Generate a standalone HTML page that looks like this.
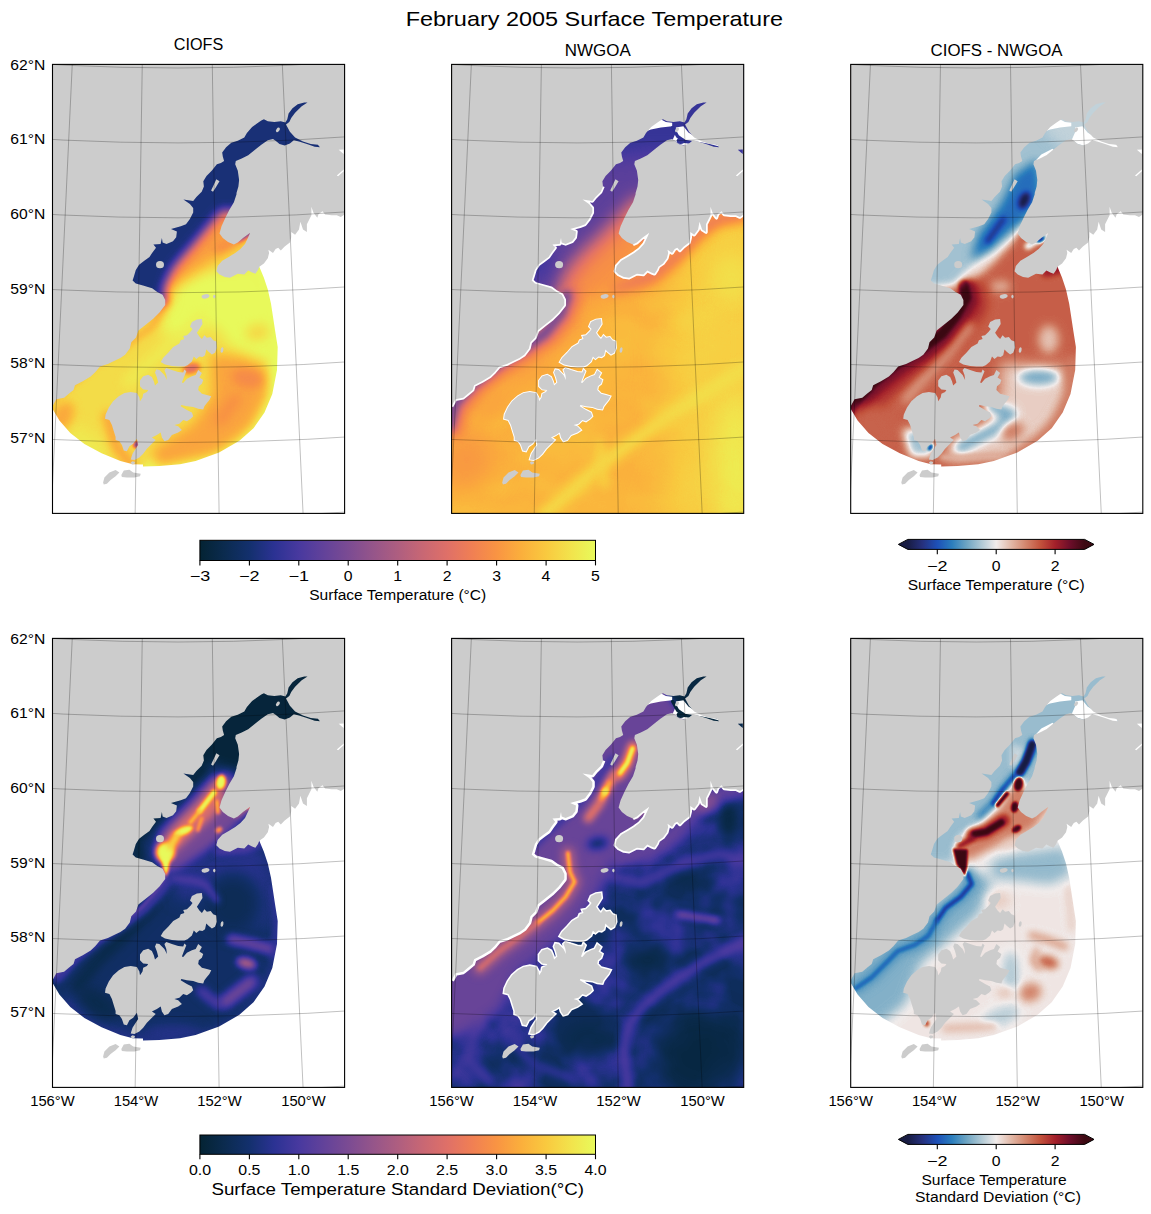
<!DOCTYPE html><html><head><meta charset="utf-8"><title>February 2005 Surface Temperature</title>
<style>html,body{margin:0;padding:0;background:#fff}svg{display:block}text{font-family:"Liberation Sans",sans-serif;fill:#000}</style></head><body>
<svg width="1151" height="1214" viewBox="0 0 1151 1214">
<defs>
<clipPath id="pc"><rect x="0" y="0" width="292.1" height="449.0"/></clipPath>
<g id="land" fill="#cccccc"><path d="M-2 -2 L294.1 -2 L294.1 150.1 L292.0 150.1 L288.3 152.7 L284.3 150.8 L279.1 150.8 L272.6 150.1 L270.0 146.9 L266.1 149.5 L264.8 153.4 L260.9 148.2 L258.9 142.3 L258.9 150.8 L257.0 154.7 L254.4 159.9 L254.4 167.7 L250.5 165.1 L247.9 157.3 L246.5 165.1 L242.6 170.3 L238.7 167.7 L238.7 172.9 L237.4 178.2 L232.2 182.1 L228.3 186.0 L225.7 183.4 L223.1 184.7 L220.5 188.6 L215.9 185.3 L216.6 188.6 L215.3 193.8 L211.4 199.0 L206.8 202.3 L205.5 205.5 L202.9 209.4 L199.6 208.1 L195.7 206.2 L191.8 210.1 L185.3 209.4 L181.4 211.4 L177.5 213.3 L172.3 212.7 L167.0 210.1 L163.8 206.8 L165.1 201.6 L169.7 196.4 L176.2 192.5 L182.7 188.6 L187.9 184.7 L192.5 179.5 L195.7 172.9 L197.7 168.4 L190.5 173.6 L185.3 178.2 L181.4 180.1 L175.5 177.5 L170.3 173.6 L167.0 169.0 L169.0 161.9 L172.9 153.4 L176.8 145.6 L181.4 137.8 L184.0 129.9 L184.0 128.6 L185.9 122.0 L186.6 115.5 L185.3 106.4 L182.7 99.9 L183.3 96.6 L189.2 94.0 L195.7 90.8 L202.2 85.6 L208.8 80.3 L215.3 75.8 L220.5 74.5 L223.1 76.4 L227.0 79.7 L232.2 81.0 L237.4 79.0 L241.3 75.8 L246.5 77.1 L254.4 79.7 L262.2 82.3 L267.4 82.9 L265.4 80.3 L258.3 79.7 L250.5 77.1 L242.6 73.2 L237.4 67.3 L233.5 60.1 L236.8 57.5 L238.7 53.6 L242.6 48.4 L249.2 41.9 L255.0 38.0 L251.8 38.0 L245.2 39.9 L240.0 43.8 L236.1 49.1 L234.8 54.9 L232.9 58.2 L228.3 56.9 L221.8 57.5 L215.3 56.9 L211.4 54.9 L208.8 56.2 L204.8 58.8 L199.6 62.7 L194.4 68.6 L191.8 73.2 L185.3 76.4 L178.8 78.4 L173.6 82.9 L169.7 88.2 L170.3 92.1 L171.6 96.6 L168.4 98.6 L164.4 99.9 L159.2 106.4 L154.0 111.6 L150.8 116.8 L151.4 122.0 L149.2 127.3 L143.9 132.5 L140.7 136.5 L130.9 135.1 L137.4 139.7 L140.7 143.6 L140.7 148.2 L137.4 154.7 L133.5 159.9 L128.3 161.9 L118.5 164.5 L124.4 167.1 L123.7 172.9 L120.5 176.9 L114.0 179.5 L110.1 178.2 L109.4 173.6 L108.1 179.5 L100.9 180.1 L103.5 183.4 L99.6 188.6 L97.0 192.5 L91.8 196.4 L86.6 200.3 L83.3 205.5 L81.4 212.0 L80.1 216.0 L83.3 219.2 L90.5 221.2 L99.6 223.8 L104.8 227.7 L110.1 230.3 L112.7 235.5 L112.7 240.7 L107.0 248.1 L100.7 254.4 L92.9 260.6 L85.9 266.1 L83.5 273.1 L78.8 277.8 L77.3 284.1 L72.6 290.3 L67.9 293.5 L61.6 296.6 L55.4 299.7 L47.5 302.1 L42.9 307.5 L38.2 312.2 L30.3 316.9 L22.5 320.8 L21.0 325.5 L16.3 329.4 L11.6 333.3 L3.8 334.9 L0.0 341.9 L-2 341.9Z"/><path d="M149.4 254.6 L150.0 259.6 L146.9 264.6 L144.4 268.4 L146.9 272.1 L149.4 274.6 L151.9 270.9 L154.4 273.4 L158.2 272.7 L160.7 275.9 L163.8 277.1 L164.4 283.4 L162.5 288.4 L159.4 290.2 L156.3 287.7 L153.8 285.2 L152.5 290.9 L150.0 292.7 L146.9 292.1 L143.8 294.6 L141.3 292.1 L139.4 297.1 L135.0 300.9 L131.9 302.1 L125.7 302.1 L119.4 301.5 L112.5 300.2 L108.2 297.7 L110.7 293.4 L115.7 288.4 L120.7 282.7 L126.9 279.0 L128.2 275.9 L131.9 274.6 L130.7 271.5 L134.4 270.9 L138.2 267.1 L140.0 264.6 L137.5 262.1 L139.4 257.7 L144.4 255.2Z"/><path d="M87.5 316.2 L90.7 311.9 L95.7 310.4 L99.4 312.5 L101.3 316.9 L102.5 321.2 L105.7 318.1 L104.4 313.1 L102.5 308.1 L103.8 305.0 L106.9 305.6 L111.9 310.6 L114.4 315.6 L113.8 310.6 L111.9 305.6 L113.8 303.7 L119.4 305.6 L125.7 307.5 L130.7 308.1 L131.9 305.0 L133.8 306.9 L131.3 313.1 L129.4 318.1 L130.7 318.7 L134.4 314.4 L139.4 311.9 L143.2 310.6 L145.7 305.6 L149.4 308.7 L146.9 313.1 L150.7 315.6 L149.4 319.4 L146.3 321.9 L145.7 325.6 L149.4 329.4 L154.4 330.6 L158.8 331.9 L156.9 335.6 L153.8 339.4 L151.9 341.9 L150.7 345.0 L145.7 344.4 L140.7 342.5 L134.4 341.9 L128.8 340.6 L128.2 341.9 L134.4 345.6 L139.4 348.1 L140.7 351.9 L138.2 354.4 L134.4 356.9 L130.7 355.6 L126.9 359.4 L121.9 360.6 L125.7 361.9 L129.4 365.6 L125.7 368.1 L119.4 370.6 L115.7 375.6 L111.9 376.9 L109.4 373.1 L108.2 368.1 L104.4 370.6 L99.4 373.1 L103.2 375.6 L99.4 379.4 L94.4 384.4 L90.7 389.4 L86.9 393.1 L81.9 395.6 L78.2 395.0 L80.0 389.4 L83.2 384.4 L85.7 380.6 L84.4 374.4 L80.7 379.4 L76.9 381.9 L74.4 386.9 L71.3 386.2 L69.4 380.6 L66.9 376.9 L63.1 375.6 L63.1 372.5 L61.3 366.9 L59.4 360.6 L56.9 355.6 L52.5 354.4 L53.1 350.0 L56.3 343.1 L60.6 336.9 L66.3 331.9 L71.9 328.7 L78.2 327.5 L84.4 328.7 L86.9 333.1 L87.5 336.9 L90.0 333.1 L90.7 329.4 L94.4 327.5 L95.7 325.6 L90.7 325.0 L87.5 321.9Z"/><path d="M163.8 114.9 L167.0 116.8 L163.1 123.3 L160.5 127.3 L158.6 126.0 L161.2 120.7Z"/><path d="M50.6 418.1 L51.9 413.1 L56.9 408.1 L63.1 405.6 L66.9 408.1 L63.1 411.9 L58.1 415.6 L54.4 419.4 L51.3 420.0Z"/><path d="M68.8 410.6 L71.3 406.2 L76.9 405.4 L80.7 408.1 L88.2 409.4 L87.5 411.9 L81.9 413.1 L74.4 413.1 L69.4 412.5Z"/><path d="M78.2 398.1 L80.0 396.9 L82.5 397.5 L81.9 399.6 L79.4 400.0Z"/><ellipse cx="107.5" cy="200.3" rx="4" ry="3.6" transform="rotate(0 107.5 200.3)"/><ellipse cx="225.4" cy="65.4" rx="1.6" ry="2.6" transform="rotate(35 225.4 65.4)"/><ellipse cx="153.0" cy="231.9" rx="4" ry="2.2" transform="rotate(-10 153.0 231.9)"/><ellipse cx="161.8" cy="232.2" rx="1.2" ry="1.8" transform="rotate(0 161.8 232.2)"/><ellipse cx="169.5" cy="285.6" rx="1.4" ry="2.8" transform="rotate(10 169.5 285.6)"/></g>
<linearGradient id="thermal" x1="0" x2="1" y1="0" y2="0"><stop offset="0" stop-color="#042333"/><stop offset="0.0625" stop-color="#0b2b4f"/><stop offset="0.125" stop-color="#13306d"/><stop offset="0.1875" stop-color="#2b3293"/><stop offset="0.25" stop-color="#48399f"/><stop offset="0.3125" stop-color="#62429a"/><stop offset="0.375" stop-color="#7b4b93"/><stop offset="0.4375" stop-color="#95558a"/><stop offset="0.5" stop-color="#ae5e80"/><stop offset="0.5625" stop-color="#c86774"/><stop offset="0.625" stop-color="#df7068"/><stop offset="0.6875" stop-color="#f07f54"/><stop offset="0.75" stop-color="#f99443"/><stop offset="0.8125" stop-color="#fbaf3c"/><stop offset="0.875" stop-color="#f9c93f"/><stop offset="0.9375" stop-color="#f2e34c"/><stop offset="1" stop-color="#e8fa5b"/></linearGradient>
<linearGradient id="balance" x1="0" x2="1" y1="0" y2="0"><stop offset="0" stop-color="#181c43"/><stop offset="0.0833" stop-color="#26317e"/><stop offset="0.1667" stop-color="#1d50b8"/><stop offset="0.25" stop-color="#2b7ebd"/><stop offset="0.3333" stop-color="#6ea5c3"/><stop offset="0.4167" stop-color="#b0c9d5"/><stop offset="0.5" stop-color="#f1eceb"/><stop offset="0.5833" stop-color="#e2b9a8"/><stop offset="0.6667" stop-color="#d3866d"/><stop offset="0.75" stop-color="#c2523c"/><stop offset="0.8333" stop-color="#a4202a"/><stop offset="0.9167" stop-color="#6d0e2a"/><stop offset="1" stop-color="#3c0912"/></linearGradient>
<filter id="cmT" filterUnits="userSpaceOnUse" x="-5" y="-5" width="302.1" height="459.0" color-interpolation-filters="sRGB"><feComponentTransfer><feFuncR type="table" tableValues="0.016 0.029 0.043 0.059 0.075 0.122 0.169 0.225 0.282 0.333 0.384 0.433 0.482 0.533 0.584 0.633 0.682 0.733 0.784 0.829 0.875 0.908 0.941 0.959 0.976 0.98 0.984 0.98 0.976 0.963 0.949 0.929 0.91"/><feFuncG type="table" tableValues="0.137 0.153 0.169 0.178 0.188 0.192 0.196 0.21 0.224 0.241 0.259 0.276 0.294 0.314 0.333 0.351 0.369 0.386 0.404 0.422 0.439 0.469 0.498 0.539 0.58 0.633 0.686 0.737 0.788 0.839 0.89 0.935 0.98"/><feFuncB type="table" tableValues="0.2 0.255 0.31 0.369 0.427 0.502 0.576 0.6 0.624 0.614 0.604 0.59 0.576 0.559 0.541 0.522 0.502 0.478 0.455 0.431 0.408 0.369 0.329 0.296 0.263 0.249 0.235 0.241 0.247 0.273 0.298 0.327 0.357"/></feComponentTransfer></filter><filter id="cmB" filterUnits="userSpaceOnUse" x="-5" y="-5" width="302.1" height="459.0" color-interpolation-filters="sRGB"><feComponentTransfer><feFuncR type="table" tableValues="0.094 0.115 0.135 0.145 0.131 0.118 0.127 0.148 0.169 0.267 0.366 0.464 0.561 0.658 0.754 0.849 0.945 0.923 0.901 0.879 0.857 0.835 0.811 0.786 0.761 0.717 0.673 0.616 0.535 0.454 0.379 0.307 0.235"/><feFuncG type="table" tableValues="0.11 0.141 0.172 0.207 0.253 0.298 0.359 0.426 0.494 0.551 0.609 0.665 0.718 0.771 0.823 0.874 0.925 0.85 0.775 0.7 0.625 0.551 0.475 0.398 0.322 0.248 0.174 0.117 0.09 0.064 0.05 0.043 0.035"/><feFuncB type="table" tableValues="0.263 0.35 0.436 0.523 0.608 0.693 0.726 0.734 0.741 0.75 0.759 0.774 0.8 0.826 0.857 0.889 0.922 0.823 0.724 0.63 0.543 0.456 0.379 0.307 0.235 0.209 0.182 0.165 0.165 0.165 0.141 0.106 0.071"/></feComponentTransfer></filter><filter id="b1" filterUnits="userSpaceOnUse" x="-60" y="-60" width="412.1" height="569.0" color-interpolation-filters="sRGB"><feGaussianBlur stdDeviation="1"/></filter><filter id="b1_2" filterUnits="userSpaceOnUse" x="-60" y="-60" width="412.1" height="569.0" color-interpolation-filters="sRGB"><feGaussianBlur stdDeviation="1.2"/></filter><filter id="b1_5" filterUnits="userSpaceOnUse" x="-60" y="-60" width="412.1" height="569.0" color-interpolation-filters="sRGB"><feGaussianBlur stdDeviation="1.5"/></filter><filter id="b1_8" filterUnits="userSpaceOnUse" x="-60" y="-60" width="412.1" height="569.0" color-interpolation-filters="sRGB"><feGaussianBlur stdDeviation="1.8"/></filter><filter id="b2" filterUnits="userSpaceOnUse" x="-60" y="-60" width="412.1" height="569.0" color-interpolation-filters="sRGB"><feGaussianBlur stdDeviation="2"/></filter><filter id="b2_5" filterUnits="userSpaceOnUse" x="-60" y="-60" width="412.1" height="569.0" color-interpolation-filters="sRGB"><feGaussianBlur stdDeviation="2.5"/></filter><filter id="b3" filterUnits="userSpaceOnUse" x="-60" y="-60" width="412.1" height="569.0" color-interpolation-filters="sRGB"><feGaussianBlur stdDeviation="3"/></filter><filter id="b3_5" filterUnits="userSpaceOnUse" x="-60" y="-60" width="412.1" height="569.0" color-interpolation-filters="sRGB"><feGaussianBlur stdDeviation="3.5"/></filter><filter id="b4" filterUnits="userSpaceOnUse" x="-60" y="-60" width="412.1" height="569.0" color-interpolation-filters="sRGB"><feGaussianBlur stdDeviation="4"/></filter><filter id="b4_5" filterUnits="userSpaceOnUse" x="-60" y="-60" width="412.1" height="569.0" color-interpolation-filters="sRGB"><feGaussianBlur stdDeviation="4.5"/></filter><filter id="b5" filterUnits="userSpaceOnUse" x="-60" y="-60" width="412.1" height="569.0" color-interpolation-filters="sRGB"><feGaussianBlur stdDeviation="5"/></filter><filter id="b6" filterUnits="userSpaceOnUse" x="-60" y="-60" width="412.1" height="569.0" color-interpolation-filters="sRGB"><feGaussianBlur stdDeviation="6"/></filter><filter id="b7" filterUnits="userSpaceOnUse" x="-60" y="-60" width="412.1" height="569.0" color-interpolation-filters="sRGB"><feGaussianBlur stdDeviation="7"/></filter><filter id="b8" filterUnits="userSpaceOnUse" x="-60" y="-60" width="412.1" height="569.0" color-interpolation-filters="sRGB"><feGaussianBlur stdDeviation="8"/></filter><filter id="b9" filterUnits="userSpaceOnUse" x="-60" y="-60" width="412.1" height="569.0" color-interpolation-filters="sRGB"><feGaussianBlur stdDeviation="9"/></filter><filter id="b10" filterUnits="userSpaceOnUse" x="-60" y="-60" width="412.1" height="569.0" color-interpolation-filters="sRGB"><feGaussianBlur stdDeviation="10"/></filter><filter id="b12" filterUnits="userSpaceOnUse" x="-60" y="-60" width="412.1" height="569.0" color-interpolation-filters="sRGB"><feGaussianBlur stdDeviation="12"/></filter><filter id="b18" filterUnits="userSpaceOnUse" x="-60" y="-60" width="412.1" height="569.0" color-interpolation-filters="sRGB"><feGaussianBlur stdDeviation="18"/></filter><clipPath id="dom"><path d="M206.8 202.3 L211.4 213.3 L215.3 225.1 L218.5 239.4 L220.5 252.4 L222.5 265.6 L225.2 282.6 L224.5 305.6 L219.8 329.6 L212.0 348.2 L201.0 363.8 L186.9 376.4 L166.6 388.1 L143.1 396.6 L127.5 399.8 L107.0 401.7 L90.5 402.1 L90.5 400.1 L80.4 399.8 L67.9 396.7 L49.1 388.9 L31.9 379.5 L17.8 368.5 L6.9 356.0 L-0.5 343.6 L-6 343.6 L-6 -6 L298.1 -6 L298.1 90 L270 100 L200 160Z"/></clipPath><filter id="turb" filterUnits="userSpaceOnUse" x="-10" y="-10" width="320" height="480" color-interpolation-filters="sRGB"><feTurbulence type="fractalNoise" baseFrequency="0.022" numOctaves="3" seed="11"/><feColorMatrix type="matrix" values="0 0 0 0 0  0 0 0 0 0  0 0 0 0 0  1.6 0 0 0 -0.55" result="a"/><feFlood flood-color="rgb(70,70,70)"/><feComposite in2="a" operator="in"/></filter><filter id="turb2" filterUnits="userSpaceOnUse" x="-10" y="-10" width="320" height="480" color-interpolation-filters="sRGB"><feTurbulence type="fractalNoise" baseFrequency="0.02 0.03" numOctaves="2" seed="5"/><feColorMatrix type="matrix" values="0 0 0 0 0  0 0 0 0 0  0 0 0 0 0  1.4 0 0 0 -0.5" result="a"/><feFlood flood-color="rgb(232,232,232)"/><feComposite in2="a" operator="in"/></filter>
</defs>
<rect width="1151" height="1214" fill="#fff"/>
<g transform="translate(52.5 64.4)"><g clip-path="url(#pc)">
<rect width="292.1" height="449.0" fill="#fff"/>
<g clip-path="url(#dom)"><g filter="url(#cmT)"><rect x="-60" y="-60" width="412.1" height="569.0" fill="rgb(235,235,235)"/><path d="M207 200 L215 235 L225 283 L224 325 L208 360 L189 383 L150 401 L100 405" fill="none" stroke="rgb(255,255,255)" stroke-width="18" stroke-linecap="round" stroke-linejoin="round" filter="url(#b4)"/><path d="M112 240 L125 222 L150 208 L206 203 L225 260 L222 300 L178 282 L165 262 L148 262 L128 275 L110 270Z" fill="rgb(255,255,255)" filter="url(#b7)"/><path d="M150 252 L120 278 L95 300 L75 318" fill="none" stroke="rgb(247,247,247)" stroke-width="10" stroke-linecap="round" stroke-linejoin="round" filter="url(#b6)"/><ellipse cx="35" cy="382" rx="26" ry="12" fill="rgb(245,245,245)" filter="url(#b8)" transform="rotate(40 35 382)"/><ellipse cx="205" cy="268" rx="12" ry="8" fill="rgb(230,230,230)" filter="url(#b6)" transform="rotate(-10 205 268)"/><path d="M165 138 L192 142 L195 172 L170 190 L145 205 L122 218 L108 222 L112 205 L130 178Z" fill="rgb(199,199,199)" filter="url(#b7)"/><path d="M195 163 L183 177 L165 185" fill="none" stroke="rgb(178,178,178)" stroke-width="6" stroke-linecap="round" stroke-linejoin="round" filter="url(#b4)"/><path d="M114 236 L100 262 L70 283 L40 300 L0 335" fill="none" stroke="rgb(204,204,204)" stroke-width="6" stroke-linecap="round" stroke-linejoin="round" filter="url(#b3_5)"/><ellipse cx="10" cy="352" rx="10" ry="16" fill="rgb(204,204,204)" filter="url(#b5)" transform="rotate(30 10 352)"/><path d="M55 352 L64 382 L80 402" fill="none" stroke="rgb(199,199,199)" stroke-width="10" stroke-linecap="round" stroke-linejoin="round" filter="url(#b4)"/><path d="M158 290 L185 292 L212 302 L214 332 L198 362 L165 388 L105 402 L100 385 L140 360 L160 330Z" fill="rgb(201,201,201)" filter="url(#b6)"/><ellipse cx="195" cy="314" rx="16" ry="9" fill="rgb(184,184,184)" filter="url(#b5)" transform="rotate(10 195 314)"/><path d="M183 335 L168 355" fill="none" stroke="rgb(189,189,189)" stroke-width="12" stroke-linecap="round" stroke-linejoin="round" filter="url(#b5)"/><ellipse cx="139" cy="304" rx="9" ry="5" fill="rgb(158,158,158)" filter="url(#b2_5)" transform="rotate(-15 139 304)"/><path d="M180 147 L170 144.5 L163 152 L151.5 165.5 L139 180.5 L128 193 L120 203 L114 214.5 L110 225.5 L113 236 L90 245 L40 220 L40 100 L150 -20 L320 -20 L320 100 L230 130Z" fill="rgb(128,128,128)" filter="url(#b9)"/><path d="M180 147 L170 144.5 L163 152 L151.5 165.5 L139 180.5 L128 193 L120 203 L114 214.5 L110 225.5 L113 236 L90 245 L40 220 L40 100 L150 -20 L320 -20 L320 100 L230 130Z" fill="rgb(36,36,36)" filter="url(#b5)"/><path d="M186 174 L198 168" fill="none" stroke="rgb(76,76,76)" stroke-width="5" stroke-linecap="round" stroke-linejoin="round" filter="url(#b2)"/><ellipse cx="84" cy="380" rx="2.5" ry="3.5" fill="rgb(89,89,89)" filter="url(#b1_5)" transform="rotate(30 84 380)"/></g></g>
<use href="#land"/>
<path d="M286.2 85.3 L291.2 85.1 L291.2 89.6 L289.1 87.8Z" fill="#fff"/><path d="M284.3 111.2 L291.2 105.0 L291.2 106.8 L285.6 111.8Z" fill="#fff"/>
<g fill="none" stroke="#000" stroke-opacity="0.42" stroke-width="0.6"><circle cx="125.5" cy="-2258.4" r="2711.4"/><circle cx="125.5" cy="-2258.4" r="2636.5"/><circle cx="125.5" cy="-2258.4" r="2561.6"/><circle cx="125.5" cy="-2258.4" r="2486.7"/><circle cx="125.5" cy="-2258.4" r="2411.8"/><circle cx="125.5" cy="-2258.4" r="2336.9"/><circle cx="125.5" cy="-2258.4" r="2262.0"/><line x1="-45.5" y1="-65.1" x2="-92.1" y2="533.1"/><line x1="22.6" y1="-60.8" x2="-5.5" y2="538.5"/><line x1="90.7" y1="-58.7" x2="81.2" y2="541.3"/><line x1="158.9" y1="-58.7" x2="168.0" y2="541.3"/><line x1="227.0" y1="-60.7" x2="254.7" y2="538.6"/><line x1="295.1" y1="-64.9" x2="341.3" y2="533.3"/></g>
</g>
<rect x="0" y="0" width="292.1" height="449.0" fill="none" stroke="#000" stroke-width="1.1"/>
</g>
<g transform="translate(451.6 64.4)"><g clip-path="url(#pc)">
<rect width="292.1" height="449.0" fill="#fff"/>
<g filter="url(#cmT)"><rect x="-60" y="-60" width="412.1" height="569.0" fill="rgb(209,209,209)"/><path d="M235 130 L320 120 L320 470 L200 470 L225 380 L215 300Z" fill="rgb(227,227,227)" filter="url(#b18)"/><ellipse cx="285" cy="400" rx="22" ry="70" fill="rgb(245,245,245)" filter="url(#b12)"/><ellipse cx="280" cy="215" rx="20" ry="25" fill="rgb(237,237,237)" filter="url(#b10)"/><path d="M300 300 L219 350 L190 371 L152 398 L114 432 L90 452" fill="none" stroke="rgb(240,240,240)" stroke-width="11" stroke-linecap="round" stroke-linejoin="round" filter="url(#b6)"/><path d="M148 378 L153 420" fill="none" stroke="rgb(230,230,230)" stroke-width="8" stroke-linecap="round" stroke-linejoin="round" filter="url(#b5)"/><ellipse cx="245" cy="255" rx="25" ry="10" fill="rgb(230,230,230)" filter="url(#b8)" transform="rotate(-15 245 255)"/><rect x="-10" y="-10" width="312.1" height="469.0" filter="url(#turb2)" opacity="0.55"/><ellipse cx="15" cy="395" rx="30" ry="30" fill="rgb(194,194,194)" filter="url(#b12)"/><path d="M130 255 L100 290 L60 320 L30 350" fill="none" stroke="rgb(199,199,199)" stroke-width="20" stroke-linecap="round" stroke-linejoin="round" filter="url(#b10)"/><path d="M165 222 L200 212 L225 192 L245 170 L265 155 L292 150" fill="none" stroke="rgb(168,168,168)" stroke-width="14" stroke-linecap="round" stroke-linejoin="round" filter="url(#b6)"/><path d="M150 95 L200 100 L205 160 L175 215 L140 240 L105 240 L95 200 L120 150Z" fill="rgb(189,189,189)" filter="url(#b10)"/><path d="M200 136 L186 136 L176 148 L164 161 L150 175 L136 188 L125 200 L116 212 L111 225 L111 238 L90 250 L40 230 L40 100 L150 -20 L320 -20 L320 100 L230 125Z" fill="rgb(133,133,133)" filter="url(#b12)"/><path d="M194 131 L180 131 L170 143 L158 156 L144 170 L130 183 L119 195 L110 207 L105 220 L105 233 L84 245 L34 225 L34 95 L144 -25 L314 -25 L314 95 L224 120Z" fill="rgb(76,76,76)" filter="url(#b8)"/><path d="M150 95 L150 -20 L320 -20 L320 90 L200 88Z" fill="rgb(54,54,54)" filter="url(#b10)"/><ellipse cx="80" cy="200" rx="22" ry="16" fill="rgb(59,59,59)" filter="url(#b8)" transform="rotate(-30 80 200)"/><path d="M118 233 L112 251 L96 271 L74 286 L49 301 L24 321 L6 341 L0 363" fill="none" stroke="rgb(158,158,158)" stroke-width="20" stroke-linecap="round" stroke-linejoin="round" filter="url(#b6)" opacity="0.85"/><path d="M115 231 L109 249 L93 269 L71 284 L46 299 L21 319 L3 339 L-3 361" fill="none" stroke="rgb(97,97,97)" stroke-width="11" stroke-linecap="round" stroke-linejoin="round" filter="url(#b3)"/><path d="M184 175 L198 168" fill="none" stroke="rgb(115,115,115)" stroke-width="5" stroke-linecap="round" stroke-linejoin="round" filter="url(#b2)"/></g><path d="M151.4 122.0 L149.2 127.3 L143.9 132.5 L140.7 136.5 L130.9 135.1 L137.4 139.7 L140.7 143.6 L140.7 148.2 L137.4 154.7 L133.5 159.9 L128.3 161.9 L118.5 164.5 L124.4 167.1 L123.7 172.9 L120.5 176.9 L114.0 179.5 L110.1 178.2 L109.4 173.6 L108.1 179.5 L100.9 180.1 L103.5 183.4 L99.6 188.6 L97.0 192.5 L91.8 196.4 L86.6 200.3 L83.3 205.5 L81.4 212.0 L80.1 216.0 L83.3 219.2 L90.5 221.2 L99.6 223.8 L104.8 227.7 L110.1 230.3 L112.7 235.5 L112.7 240.7 L107.0 248.1 L100.7 254.4 L92.9 260.6 L85.9 266.1 L83.5 273.1 L78.8 277.8 L77.3 284.1 L72.6 290.3 L67.9 293.5 L61.6 296.6 L55.4 299.7 L47.5 302.1 L42.9 307.5 L38.2 312.2 L30.3 316.9 L22.5 320.8 L21.0 325.5 L16.3 329.4 L11.6 333.3 L3.8 334.9 L0.0 341.9" fill="none" stroke="#fff" stroke-width="3.5" stroke-linejoin="round"/><path d="M181.4 180.1 L185.3 178.2 L190.5 173.6 L197.7 168.4 L195.7 172.9 L192.5 179.5 L187.9 184.7 L182.7 188.6 L176.2 192.5 L169.7 196.4 L165.1 201.6 L163.8 206.8 L167.0 210.1 L172.3 212.7 L177.5 213.3 L181.4 211.4 L185.3 209.4 L191.8 210.1 L195.7 206.2 L199.6 208.1 L202.9 209.4 L205.5 205.5 L206.8 202.3 L211.4 199.0 L215.3 193.8 L216.6 188.6 L215.9 185.3 L220.5 188.6 L223.1 184.7 L225.7 183.4 L228.3 186.0 L232.2 182.1 L237.4 178.2 L238.7 172.9 L238.7 167.7 L242.6 170.3 L246.5 165.1 L247.9 157.3 L250.5 165.1 L254.4 167.7 L254.4 159.9 L257.0 154.7 L258.9 150.8 L258.9 142.3 L260.9 148.2 L264.8 153.4 L266.1 149.5 L270.0 146.9 L272.6 150.1 L279.1 150.8 L284.3 150.8 L288.3 152.7 L292.0 150.1" fill="none" stroke="#fff" stroke-width="3.5" stroke-linejoin="round"/><path d="M87.5 316.2 L90.7 311.9 L95.7 310.4 L99.4 312.5 L101.3 316.9 L102.5 321.2 L105.7 318.1 L104.4 313.1 L102.5 308.1 L103.8 305.0 L106.9 305.6 L111.9 310.6 L114.4 315.6 L113.8 310.6 L111.9 305.6 L113.8 303.7 L119.4 305.6 L125.7 307.5 L130.7 308.1 L131.9 305.0 L133.8 306.9 L131.3 313.1 L129.4 318.1 L130.7 318.7 L134.4 314.4 L139.4 311.9 L143.2 310.6 L145.7 305.6 L149.4 308.7 L146.9 313.1 L150.7 315.6 L149.4 319.4 L146.3 321.9 L145.7 325.6 L149.4 329.4 L154.4 330.6 L158.8 331.9 L156.9 335.6 L153.8 339.4 L151.9 341.9 L150.7 345.0 L145.7 344.4 L140.7 342.5 L134.4 341.9 L128.8 340.6 L128.2 341.9 L134.4 345.6 L139.4 348.1 L140.7 351.9 L138.2 354.4 L134.4 356.9 L130.7 355.6 L126.9 359.4 L121.9 360.6 L125.7 361.9 L129.4 365.6 L125.7 368.1 L119.4 370.6 L115.7 375.6 L111.9 376.9 L109.4 373.1 L108.2 368.1 L104.4 370.6 L99.4 373.1 L103.2 375.6 L99.4 379.4 L94.4 384.4 L90.7 389.4 L86.9 393.1 L81.9 395.6 L78.2 395.0 L80.0 389.4 L83.2 384.4 L85.7 380.6 L84.4 374.4 L80.7 379.4 L76.9 381.9 L74.4 386.9 L71.3 386.2 L69.4 380.6 L66.9 376.9 L63.1 375.6 L63.1 372.5 L61.3 366.9 L59.4 360.6 L56.9 355.6 L52.5 354.4 L53.1 350.0 L56.3 343.1 L60.6 336.9 L66.3 331.9 L71.9 328.7 L78.2 327.5 L84.4 328.7 L86.9 333.1 L87.5 336.9 L90.0 333.1 L90.7 329.4 L94.4 327.5 L95.7 325.6 L90.7 325.0 L87.5 321.9Z" fill="none" stroke="#fff" stroke-width="2"/><path d="M149.4 254.6 L150.0 259.6 L146.9 264.6 L144.4 268.4 L146.9 272.1 L149.4 274.6 L151.9 270.9 L154.4 273.4 L158.2 272.7 L160.7 275.9 L163.8 277.1 L164.4 283.4 L162.5 288.4 L159.4 290.2 L156.3 287.7 L153.8 285.2 L152.5 290.9 L150.0 292.7 L146.9 292.1 L143.8 294.6 L141.3 292.1 L139.4 297.1 L135.0 300.9 L131.9 302.1 L125.7 302.1 L119.4 301.5 L112.5 300.2 L108.2 297.7 L110.7 293.4 L115.7 288.4 L120.7 282.7 L126.9 279.0 L128.2 275.9 L131.9 274.6 L130.7 271.5 L134.4 270.9 L138.2 267.1 L140.0 264.6 L137.5 262.1 L139.4 257.7 L144.4 255.2Z" fill="none" stroke="#fff" stroke-width="2"/><path d="M224.3 63.1 L231.8 61.9 L236.8 68.1 L246.8 74.3 L266.8 80.6 L266.8 85.0 L249.3 80.6 L235.6 81.8 L226.8 79.3 L221.2 75.0 L224.3 68.1Z" fill="#fff"/><path d="M196.8 61.9 L208.1 54.4 L214.3 57.5 L220.6 58.4 L220.6 61.9 L209.3 63.1 L199.3 65.0 L191.8 68.1Z" fill="#fff"/><path d="M221 63 L226 72 L233 77 L243 78.5 L257 81 L268 84" fill="none" stroke="#2f3295" stroke-width="3.2" stroke-linecap="round" stroke-linejoin="round"/><ellipse cx="229" cy="76.5" rx="4" ry="3" fill="#2f3295"/>
<use href="#land"/>
<path d="M286.2 85.3 L291.2 85.1 L291.2 89.6 L289.1 87.8Z" fill="#3a349c"/><path d="M284.3 111.2 L291.2 105.0 L291.2 106.8 L285.6 111.8Z" fill="#fff"/>
<g fill="none" stroke="#000" stroke-opacity="0.42" stroke-width="0.6"><circle cx="125.5" cy="-2258.4" r="2711.4"/><circle cx="125.5" cy="-2258.4" r="2636.5"/><circle cx="125.5" cy="-2258.4" r="2561.6"/><circle cx="125.5" cy="-2258.4" r="2486.7"/><circle cx="125.5" cy="-2258.4" r="2411.8"/><circle cx="125.5" cy="-2258.4" r="2336.9"/><circle cx="125.5" cy="-2258.4" r="2262.0"/><line x1="-45.5" y1="-65.1" x2="-92.1" y2="533.1"/><line x1="22.6" y1="-60.8" x2="-5.5" y2="538.5"/><line x1="90.7" y1="-58.7" x2="81.2" y2="541.3"/><line x1="158.9" y1="-58.7" x2="168.0" y2="541.3"/><line x1="227.0" y1="-60.7" x2="254.7" y2="538.6"/><line x1="295.1" y1="-64.9" x2="341.3" y2="533.3"/></g>
</g>
<rect x="0" y="0" width="292.1" height="449.0" fill="none" stroke="#000" stroke-width="1.1"/>
</g>
<g transform="translate(850.7 64.4)"><g clip-path="url(#pc)">
<rect width="292.1" height="449.0" fill="#fff"/>
<g clip-path="url(#dom)"><g filter="url(#cmB)"><rect x="-60" y="-60" width="412.1" height="569.0" fill="rgb(186,186,186)"/><ellipse cx="198" cy="275" rx="10" ry="14" fill="rgb(145,145,145)" filter="url(#b5)"/><ellipse cx="150" cy="222" rx="10" ry="6" fill="rgb(153,153,153)" filter="url(#b4)"/><path d="M164 160 L158 175 L140 195 L118 214" fill="none" stroke="rgb(128,128,128)" stroke-width="8" stroke-linecap="round" stroke-linejoin="round" filter="url(#b4)"/><path d="M121 227 L124 240 L114 258 L100 276 L80 291 L55 306 L30 326 L12 346 L6 358" fill="none" stroke="rgb(209,209,209)" stroke-width="24" stroke-linecap="round" stroke-linejoin="round" filter="url(#b6)"/><path d="M116 223 L119 236 L109 254 L95 272 L75 287 L50 302 L25 322 L7 342 L1 354" fill="none" stroke="rgb(230,230,230)" stroke-width="15" stroke-linecap="round" stroke-linejoin="round" filter="url(#b3)"/><path d="M112.5 220 L115.5 233 L105.5 251 L91.5 269 L71.5 284 L46.5 299 L21.5 319 L3.5 339 L-2.5 351" fill="none" stroke="rgb(255,255,255)" stroke-width="10" stroke-linecap="round" stroke-linejoin="round" filter="url(#b1_8)"/><path d="M120 262 L100 288 L70 318 L55 335" fill="none" stroke="rgb(158,158,158)" stroke-width="8" stroke-linecap="round" stroke-linejoin="round" filter="url(#b4)"/><path d="M0 345 L30 340 L50 370 L30 390 L0 370Z" fill="rgb(184,184,184)" filter="url(#b6)"/><path d="M195 208 L215 203" fill="none" stroke="rgb(224,224,224)" stroke-width="8" stroke-linecap="round" stroke-linejoin="round" filter="url(#b3)"/><path d="M150 298 L175 300 L215 302 L218 330 L200 365 L160 392 L95 398 L100 375 L135 360 L150 330Z" fill="rgb(140,140,140)" filter="url(#b7)"/><ellipse cx="188" cy="313" rx="20" ry="8" fill="rgb(89,89,89)" filter="url(#b4)"/><path d="M140 342 L160 350 L150 362 L130 372 L110 383" fill="none" stroke="rgb(89,89,89)" stroke-width="12" stroke-linecap="round" stroke-linejoin="round" filter="url(#b4)"/><path d="M222 298 L221 330 L210 355 L190 378 L165 395" fill="none" stroke="rgb(173,173,173)" stroke-width="13" stroke-linecap="round" stroke-linejoin="round" filter="url(#b4)"/><ellipse cx="162" cy="367" rx="12" ry="8" fill="rgb(173,173,173)" filter="url(#b4)" transform="rotate(-30 162 367)"/><path d="M92 393 L150 392" fill="none" stroke="rgb(153,153,153)" stroke-width="6" stroke-linecap="round" stroke-linejoin="round" filter="url(#b2)"/><path d="M52 365 L80 365 L82 392 L60 392Z" fill="rgb(102,102,102)" filter="url(#b4)"/><ellipse cx="79.7" cy="383" rx="2" ry="3.5" fill="rgb(31,31,31)" filter="url(#b1)" transform="rotate(30 79.7 383)"/><path d="M200 140 L186 158 L172 160 L160 172 L140 190 L118 208 L104 222 L80 225 L40 200 L40 100 L150 20 L260 20 L260 100 L200 120Z" fill="rgb(102,102,102)" filter="url(#b5)"/><path d="M186 95 L190 130 L178 152 L160 166 L140 185 L120 195 L128 170 L150 140 L165 110Z" fill="rgb(56,56,56)" filter="url(#b5)"/><ellipse cx="173.5" cy="136" rx="5" ry="9" fill="rgb(0,0,0)" filter="url(#b2_5)" transform="rotate(25 173.5 136)"/><path d="M152.5 155 L137 176.5" fill="none" stroke="rgb(20,20,20)" stroke-width="5" stroke-linecap="round" stroke-linejoin="round" filter="url(#b2_5)"/><path d="M177 182 L197 169.5" fill="none" stroke="rgb(110,110,110)" stroke-width="6" stroke-linecap="round" stroke-linejoin="round" filter="url(#b2)"/><ellipse cx="190" cy="175" rx="4.5" ry="2.5" fill="rgb(20,20,20)" filter="url(#b1_5)" transform="rotate(-32 190 175)"/><path d="M180 -20 L320 -20 L320 85 L215 85 L196 70 L185 40Z" fill="rgb(112,112,112)" filter="url(#b6)"/></g></g><path d="M224.3 63.1 L231.8 61.9 L236.8 68.1 L246.8 74.3 L266.8 80.6 L266.8 85.0 L249.3 80.6 L235.6 81.8 L226.8 79.3 L221.2 75.0 L224.3 68.1Z" fill="#fff"/><path d="M196.8 61.9 L208.1 54.4 L214.3 57.5 L220.6 58.4 L220.6 61.9 L209.3 63.1 L199.3 65.0 L191.8 68.1Z" fill="#fff"/><path d="M190.6 90.0 L201.8 84.3 L204.3 86.8 L191.8 94.3 L184.3 96.8Z" fill="#fff"/>
<use href="#land"/>
<path d="M286.2 85.3 L291.2 85.1 L291.2 89.6 L289.1 87.8Z" fill="#fff"/><path d="M284.3 111.2 L291.2 105.0 L291.2 106.8 L285.6 111.8Z" fill="#fff"/>
<g fill="none" stroke="#000" stroke-opacity="0.42" stroke-width="0.6"><circle cx="125.5" cy="-2258.4" r="2711.4"/><circle cx="125.5" cy="-2258.4" r="2636.5"/><circle cx="125.5" cy="-2258.4" r="2561.6"/><circle cx="125.5" cy="-2258.4" r="2486.7"/><circle cx="125.5" cy="-2258.4" r="2411.8"/><circle cx="125.5" cy="-2258.4" r="2336.9"/><circle cx="125.5" cy="-2258.4" r="2262.0"/><line x1="-45.5" y1="-65.1" x2="-92.1" y2="533.1"/><line x1="22.6" y1="-60.8" x2="-5.5" y2="538.5"/><line x1="90.7" y1="-58.7" x2="81.2" y2="541.3"/><line x1="158.9" y1="-58.7" x2="168.0" y2="541.3"/><line x1="227.0" y1="-60.7" x2="254.7" y2="538.6"/><line x1="295.1" y1="-64.9" x2="341.3" y2="533.3"/></g>
</g>
<rect x="0" y="0" width="292.1" height="449.0" fill="none" stroke="#000" stroke-width="1.1"/>
</g>
<g transform="translate(52.5 638.4)"><g clip-path="url(#pc)">
<rect width="292.1" height="449.0" fill="#fff"/>
<g clip-path="url(#dom)"><g filter="url(#cmT)"><rect x="-60" y="-60" width="412.1" height="569.0" fill="rgb(28,28,28)"/><path d="M224 215 L228 283 L226 325 L210 360 L190 384 L150 402 L100 406 L50 392 L15 365" fill="none" stroke="rgb(43,43,43)" stroke-width="16" stroke-linecap="round" stroke-linejoin="round" filter="url(#b6)"/><ellipse cx="120" cy="395" rx="30" ry="10" fill="rgb(43,43,43)" filter="url(#b6)"/><path d="M118 232 L160 215 L210 205 L222 250 L215 290 L175 285 L150 262 L125 262Z" fill="rgb(46,46,46)" filter="url(#b8)"/><path d="M150 -20 L320 -20 L320 110 L195 130 L175 128 L160 122 L140 140Z" fill="rgb(5,5,5)" filter="url(#b5)"/><path d="M150 132 L128 152 L112 168 L98 186 L84 202 L86 220" fill="none" stroke="rgb(8,8,8)" stroke-width="9" stroke-linecap="round" stroke-linejoin="round" filter="url(#b3)"/><path d="M100 268 L75 295 L45 322 L25 348" fill="none" stroke="rgb(13,13,13)" stroke-width="12" stroke-linecap="round" stroke-linejoin="round" filter="url(#b5)"/><ellipse cx="45" cy="365" rx="22" ry="12" fill="rgb(15,15,15)" filter="url(#b6)" transform="rotate(35 45 365)"/><ellipse cx="180" cy="265" rx="28" ry="30" fill="rgb(20,20,20)" filter="url(#b8)"/><ellipse cx="140" cy="420" rx="20" ry="12" fill="rgb(26,26,26)" filter="url(#b6)"/><path d="M175 133 L190 150 L195 175 L170 200 L150 215 L130 228 L115 236 L100 215 L108 192 L135 165 L160 138Z" fill="rgb(92,92,92)" filter="url(#b5)"/><path d="M165 140 L172 160 L160 178 L140 196 L120 215 L106 210 L120 190 L145 165Z" fill="rgb(158,158,158)" filter="url(#b4)"/><ellipse cx="168.4" cy="143.8" rx="5" ry="7.5" fill="rgb(255,255,255)" filter="url(#b1_5)" transform="rotate(10 168.4 143.8)"/><path d="M161.5 154 L147.3 172.5" fill="none" stroke="rgb(255,255,255)" stroke-width="5.5" stroke-linecap="round" stroke-linejoin="round" filter="url(#b1_5)"/><path d="M147.3 172.5 L137.8 184" fill="none" stroke="rgb(217,217,217)" stroke-width="4" stroke-linecap="round" stroke-linejoin="round" filter="url(#b1_5)"/><ellipse cx="131" cy="192.5" rx="10" ry="4" fill="rgb(255,255,255)" filter="url(#b1_5)" transform="rotate(-22 131 192.5)"/><path d="M149.2 180 L145.4 191.6" fill="none" stroke="rgb(204,204,204)" stroke-width="3.5" stroke-linecap="round" stroke-linejoin="round" filter="url(#b1_5)"/><ellipse cx="112.9" cy="214" rx="9.5" ry="10" fill="rgb(255,255,255)" filter="url(#b2)"/><path d="M108 218 L118 218 L116 232 L113.5 240 L111 232Z" fill="rgb(255,255,255)" filter="url(#b1_5)"/><path d="M124 198 L118 208" fill="none" stroke="rgb(230,230,230)" stroke-width="8" stroke-linecap="round" stroke-linejoin="round" filter="url(#b2_5)"/><path d="M164.5 163 L165.5 174" fill="none" stroke="rgb(217,217,217)" stroke-width="3.5" stroke-linecap="round" stroke-linejoin="round" filter="url(#b1_5)"/><ellipse cx="166.4" cy="191.6" rx="3.5" ry="2.5" fill="rgb(204,204,204)" filter="url(#b1_5)" transform="rotate(-40 166.4 191.6)"/><path d="M183 177 L197 168.5" fill="none" stroke="rgb(128,128,128)" stroke-width="5" stroke-linecap="round" stroke-linejoin="round" filter="url(#b2)"/><ellipse cx="196" cy="169" rx="2.5" ry="1.5" fill="rgb(191,191,191)" filter="url(#b1)" transform="rotate(-22 196 169)"/><path d="M120.6 240 L140 242 L153 246 L164.5 262" fill="none" stroke="rgb(71,71,71)" stroke-width="6" stroke-linecap="round" stroke-linejoin="round" filter="url(#b3)"/><path d="M165 213 L195 210 L208 204" fill="none" stroke="rgb(76,76,76)" stroke-width="6" stroke-linecap="round" stroke-linejoin="round" filter="url(#b3)"/><path d="M115 242 L107 254 L93 270 L73 285 L48 300 L23 320 L5 340" fill="none" stroke="rgb(61,61,61)" stroke-width="9" stroke-linecap="round" stroke-linejoin="round" filter="url(#b3)"/><path d="M112 240 L104 252 L90 268 L70 283 L45 298 L20 318 L2 338" fill="none" stroke="rgb(107,107,107)" stroke-width="2.5" stroke-linecap="round" stroke-linejoin="round" filter="url(#b1_5)" opacity="0.6"/><path d="M179 301 L197 305 L220 311" fill="none" stroke="rgb(84,84,84)" stroke-width="10" stroke-linecap="round" stroke-linejoin="round" filter="url(#b3_5)"/><ellipse cx="194" cy="325" rx="10" ry="5" fill="rgb(128,128,128)" filter="url(#b3)" transform="rotate(15 194 325)"/><path d="M199 343 L172 364" fill="none" stroke="rgb(92,92,92)" stroke-width="12" stroke-linecap="round" stroke-linejoin="round" filter="url(#b4)"/><path d="M148 352 L165 366" fill="none" stroke="rgb(76,76,76)" stroke-width="8" stroke-linecap="round" stroke-linejoin="round" filter="url(#b4)"/><path d="M222 250 L225 290 L222 320" fill="none" stroke="rgb(51,51,51)" stroke-width="6" stroke-linecap="round" stroke-linejoin="round" filter="url(#b3)"/></g></g>
<use href="#land"/>
<path d="M286.2 85.3 L291.2 85.1 L291.2 89.6 L289.1 87.8Z" fill="#fff"/><path d="M284.3 111.2 L291.2 105.0 L291.2 106.8 L285.6 111.8Z" fill="#fff"/>
<g fill="none" stroke="#000" stroke-opacity="0.42" stroke-width="0.6"><circle cx="125.5" cy="-2258.4" r="2711.4"/><circle cx="125.5" cy="-2258.4" r="2636.5"/><circle cx="125.5" cy="-2258.4" r="2561.6"/><circle cx="125.5" cy="-2258.4" r="2486.7"/><circle cx="125.5" cy="-2258.4" r="2411.8"/><circle cx="125.5" cy="-2258.4" r="2336.9"/><circle cx="125.5" cy="-2258.4" r="2262.0"/><line x1="-45.5" y1="-65.1" x2="-92.1" y2="533.1"/><line x1="22.6" y1="-60.8" x2="-5.5" y2="538.5"/><line x1="90.7" y1="-58.7" x2="81.2" y2="541.3"/><line x1="158.9" y1="-58.7" x2="168.0" y2="541.3"/><line x1="227.0" y1="-60.7" x2="254.7" y2="538.6"/><line x1="295.1" y1="-64.9" x2="341.3" y2="533.3"/></g>
</g>
<rect x="0" y="0" width="292.1" height="449.0" fill="none" stroke="#000" stroke-width="1.1"/>
</g>
<g transform="translate(451.6 638.4)"><g clip-path="url(#pc)">
<rect width="292.1" height="449.0" fill="#fff"/>
<g filter="url(#cmT)"><rect x="-60" y="-60" width="412.1" height="569.0" fill="rgb(23,23,23)"/><rect x="-10" y="-10" width="312.1" height="469.0" filter="url(#turb)"/><ellipse cx="250" cy="415" rx="48" ry="42" fill="rgb(8,8,8)" filter="url(#b12)" opacity="0.9"/><ellipse cx="196" cy="322" rx="20" ry="14" fill="rgb(10,10,10)" filter="url(#b7)" opacity="0.9"/><ellipse cx="277" cy="182" rx="9" ry="18" fill="rgb(8,8,8)" filter="url(#b5)" opacity="0.9"/><ellipse cx="140" cy="400" rx="30" ry="18" fill="rgb(13,13,13)" filter="url(#b8)" opacity="0.8"/><ellipse cx="235" cy="240" rx="14" ry="10" fill="rgb(15,15,15)" filter="url(#b6)" opacity="0.8"/><path d="M295 303 L253 323 L215 348 L190 369 L177 387 L172 412 L177 452" fill="none" stroke="rgb(76,76,76)" stroke-width="8" stroke-linecap="round" stroke-linejoin="round" filter="url(#b4)"/><path d="M227 276 L266 282" fill="none" stroke="rgb(115,115,115)" stroke-width="5" stroke-linecap="round" stroke-linejoin="round" filter="url(#b3)"/><path d="M165 222 L200 212 L225 192 L245 170 L265 155 L292 150" fill="none" stroke="rgb(84,84,84)" stroke-width="16" stroke-linecap="round" stroke-linejoin="round" filter="url(#b6)"/><ellipse cx="255" cy="165" rx="12" ry="8" fill="rgb(102,102,102)" filter="url(#b5)" transform="rotate(-30 255 165)"/><path d="M150 235 L190 245 L230 225 L270 215 L292 225" fill="none" stroke="rgb(69,69,69)" stroke-width="10" stroke-linecap="round" stroke-linejoin="round" filter="url(#b5)"/><path d="M10 350 L30 380 L15 420 L40 445" fill="none" stroke="rgb(64,64,64)" stroke-width="8" stroke-linecap="round" stroke-linejoin="round" filter="url(#b4)"/><path d="M60 400 L80 425 L120 440" fill="none" stroke="rgb(56,56,56)" stroke-width="8" stroke-linecap="round" stroke-linejoin="round" filter="url(#b4)"/><path d="M150 -20 L320 -20 L320 100 L215 140 L200 205 L160 225 L148 250 L128 290 L98 312 L68 335 L50 372 L10 400 L-20 400 L-20 330 L60 230 L60 100Z" fill="rgb(84,84,84)" filter="url(#b7)"/><path d="M222 -20 L320 -20 L320 80 L240 85 L228 72 L215 55Z" fill="rgb(8,8,8)" filter="url(#b3)"/><ellipse cx="146" cy="205" rx="11" ry="6" fill="rgb(26,26,26)" filter="url(#b4)" transform="rotate(-10 146 205)"/><path d="M160 120 L140 150 L118 175 L95 195 L80 210" fill="none" stroke="rgb(51,51,51)" stroke-width="6" stroke-linecap="round" stroke-linejoin="round" filter="url(#b3)"/><path d="M181.3 108 L175.6 124.7 L167 137" fill="none" stroke="rgb(199,199,199)" stroke-width="9" stroke-linecap="round" stroke-linejoin="round" filter="url(#b3_5)"/><path d="M181 110 L175.6 124.7 L168 135" fill="none" stroke="rgb(255,255,255)" stroke-width="4.5" stroke-linecap="round" stroke-linejoin="round" filter="url(#b1_5)"/><path d="M162 137 L153.6 153 L147.9 165 L136.4 180" fill="none" stroke="rgb(178,178,178)" stroke-width="8" stroke-linecap="round" stroke-linejoin="round" filter="url(#b3_5)"/><ellipse cx="153.6" cy="153.3" rx="3.5" ry="5" fill="rgb(255,255,255)" filter="url(#b1_5)" transform="rotate(25 153.6 153.3)"/><path d="M158 144 L150 160" fill="none" stroke="rgb(230,230,230)" stroke-width="4" stroke-linecap="round" stroke-linejoin="round" filter="url(#b2)"/><path d="M116.3 214.5 L118.3 233.6 L123 243.5 L114 258.5 L101.3 272 L86 284.5 L65.8 299.7 L48 312.4 L28 330" fill="none" stroke="rgb(128,128,128)" stroke-width="13" stroke-linecap="round" stroke-linejoin="round" filter="url(#b4_5)"/><path d="M116.3 214.5 L118.3 233.6 L123 243.5 L114 258.5 L101.3 272 L86 284.5" fill="none" stroke="rgb(217,217,217)" stroke-width="4" stroke-linecap="round" stroke-linejoin="round" filter="url(#b1_8)"/><path d="M86 284.5 L65.8 299.7 L48 312.4 L28 330" fill="none" stroke="rgb(158,158,158)" stroke-width="4" stroke-linecap="round" stroke-linejoin="round" filter="url(#b2)"/><path d="M183 177 L197 168.5" fill="none" stroke="rgb(128,128,128)" stroke-width="5" stroke-linecap="round" stroke-linejoin="round" filter="url(#b2)"/><ellipse cx="196" cy="169" rx="2.5" ry="1.5" fill="rgb(191,191,191)" filter="url(#b1)" transform="rotate(-22 196 169)"/></g><path d="M151.4 122.0 L149.2 127.3 L143.9 132.5 L140.7 136.5 L130.9 135.1 L137.4 139.7 L140.7 143.6 L140.7 148.2 L137.4 154.7 L133.5 159.9 L128.3 161.9 L118.5 164.5 L124.4 167.1 L123.7 172.9 L120.5 176.9 L114.0 179.5 L110.1 178.2 L109.4 173.6 L108.1 179.5 L100.9 180.1 L103.5 183.4 L99.6 188.6 L97.0 192.5 L91.8 196.4 L86.6 200.3 L83.3 205.5 L81.4 212.0 L80.1 216.0 L83.3 219.2 L90.5 221.2 L99.6 223.8 L104.8 227.7 L110.1 230.3 L112.7 235.5 L112.7 240.7 L107.0 248.1 L100.7 254.4 L92.9 260.6 L85.9 266.1 L83.5 273.1 L78.8 277.8 L77.3 284.1 L72.6 290.3 L67.9 293.5 L61.6 296.6 L55.4 299.7 L47.5 302.1 L42.9 307.5 L38.2 312.2 L30.3 316.9 L22.5 320.8 L21.0 325.5 L16.3 329.4 L11.6 333.3 L3.8 334.9 L0.0 341.9" fill="none" stroke="#fff" stroke-width="5" stroke-linejoin="round"/><path d="M181.4 180.1 L185.3 178.2 L190.5 173.6 L197.7 168.4 L195.7 172.9 L192.5 179.5 L187.9 184.7 L182.7 188.6 L176.2 192.5 L169.7 196.4 L165.1 201.6 L163.8 206.8 L167.0 210.1 L172.3 212.7 L177.5 213.3 L181.4 211.4 L185.3 209.4 L191.8 210.1 L195.7 206.2 L199.6 208.1 L202.9 209.4 L205.5 205.5 L206.8 202.3 L211.4 199.0 L215.3 193.8 L216.6 188.6 L215.9 185.3 L220.5 188.6 L223.1 184.7 L225.7 183.4 L228.3 186.0 L232.2 182.1 L237.4 178.2 L238.7 172.9 L238.7 167.7 L242.6 170.3 L246.5 165.1 L247.9 157.3 L250.5 165.1 L254.4 167.7 L254.4 159.9 L257.0 154.7 L258.9 150.8 L258.9 142.3 L260.9 148.2 L264.8 153.4 L266.1 149.5 L270.0 146.9 L272.6 150.1 L279.1 150.8 L284.3 150.8 L288.3 152.7 L292.0 150.1" fill="none" stroke="#fff" stroke-width="3.5" stroke-linejoin="round"/><path d="M87.5 316.2 L90.7 311.9 L95.7 310.4 L99.4 312.5 L101.3 316.9 L102.5 321.2 L105.7 318.1 L104.4 313.1 L102.5 308.1 L103.8 305.0 L106.9 305.6 L111.9 310.6 L114.4 315.6 L113.8 310.6 L111.9 305.6 L113.8 303.7 L119.4 305.6 L125.7 307.5 L130.7 308.1 L131.9 305.0 L133.8 306.9 L131.3 313.1 L129.4 318.1 L130.7 318.7 L134.4 314.4 L139.4 311.9 L143.2 310.6 L145.7 305.6 L149.4 308.7 L146.9 313.1 L150.7 315.6 L149.4 319.4 L146.3 321.9 L145.7 325.6 L149.4 329.4 L154.4 330.6 L158.8 331.9 L156.9 335.6 L153.8 339.4 L151.9 341.9 L150.7 345.0 L145.7 344.4 L140.7 342.5 L134.4 341.9 L128.8 340.6 L128.2 341.9 L134.4 345.6 L139.4 348.1 L140.7 351.9 L138.2 354.4 L134.4 356.9 L130.7 355.6 L126.9 359.4 L121.9 360.6 L125.7 361.9 L129.4 365.6 L125.7 368.1 L119.4 370.6 L115.7 375.6 L111.9 376.9 L109.4 373.1 L108.2 368.1 L104.4 370.6 L99.4 373.1 L103.2 375.6 L99.4 379.4 L94.4 384.4 L90.7 389.4 L86.9 393.1 L81.9 395.6 L78.2 395.0 L80.0 389.4 L83.2 384.4 L85.7 380.6 L84.4 374.4 L80.7 379.4 L76.9 381.9 L74.4 386.9 L71.3 386.2 L69.4 380.6 L66.9 376.9 L63.1 375.6 L63.1 372.5 L61.3 366.9 L59.4 360.6 L56.9 355.6 L52.5 354.4 L53.1 350.0 L56.3 343.1 L60.6 336.9 L66.3 331.9 L71.9 328.7 L78.2 327.5 L84.4 328.7 L86.9 333.1 L87.5 336.9 L90.0 333.1 L90.7 329.4 L94.4 327.5 L95.7 325.6 L90.7 325.0 L87.5 321.9Z" fill="none" stroke="#fff" stroke-width="3"/><path d="M149.4 254.6 L150.0 259.6 L146.9 264.6 L144.4 268.4 L146.9 272.1 L149.4 274.6 L151.9 270.9 L154.4 273.4 L158.2 272.7 L160.7 275.9 L163.8 277.1 L164.4 283.4 L162.5 288.4 L159.4 290.2 L156.3 287.7 L153.8 285.2 L152.5 290.9 L150.0 292.7 L146.9 292.1 L143.8 294.6 L141.3 292.1 L139.4 297.1 L135.0 300.9 L131.9 302.1 L125.7 302.1 L119.4 301.5 L112.5 300.2 L108.2 297.7 L110.7 293.4 L115.7 288.4 L120.7 282.7 L126.9 279.0 L128.2 275.9 L131.9 274.6 L130.7 271.5 L134.4 270.9 L138.2 267.1 L140.0 264.6 L137.5 262.1 L139.4 257.7 L144.4 255.2Z" fill="none" stroke="#fff" stroke-width="3"/><path d="M224.3 63.1 L231.8 61.9 L236.8 68.1 L246.8 74.3 L266.8 80.6 L266.8 85.0 L249.3 80.6 L235.6 81.8 L226.8 79.3 L221.2 75.0 L224.3 68.1Z" fill="#fff"/><path d="M196.8 61.9 L208.1 54.4 L214.3 57.5 L220.6 58.4 L220.6 61.9 L209.3 63.1 L199.3 65.0 L191.8 68.1Z" fill="#fff"/><path d="M221 63 L226 72 L233 77 L243 78.5 L257 81 L268 84" fill="none" stroke="#06263c" stroke-width="3.2" stroke-linecap="round" stroke-linejoin="round"/><ellipse cx="229" cy="76.5" rx="4" ry="3" fill="#06263c"/>
<use href="#land"/>
<path d="M286.2 85.3 L291.2 85.1 L291.2 89.6 L289.1 87.8Z" fill="#0b2b4f"/><path d="M284.3 111.2 L291.2 105.0 L291.2 106.8 L285.6 111.8Z" fill="#fff"/>
<g fill="none" stroke="#000" stroke-opacity="0.42" stroke-width="0.6"><circle cx="125.5" cy="-2258.4" r="2711.4"/><circle cx="125.5" cy="-2258.4" r="2636.5"/><circle cx="125.5" cy="-2258.4" r="2561.6"/><circle cx="125.5" cy="-2258.4" r="2486.7"/><circle cx="125.5" cy="-2258.4" r="2411.8"/><circle cx="125.5" cy="-2258.4" r="2336.9"/><circle cx="125.5" cy="-2258.4" r="2262.0"/><line x1="-45.5" y1="-65.1" x2="-92.1" y2="533.1"/><line x1="22.6" y1="-60.8" x2="-5.5" y2="538.5"/><line x1="90.7" y1="-58.7" x2="81.2" y2="541.3"/><line x1="158.9" y1="-58.7" x2="168.0" y2="541.3"/><line x1="227.0" y1="-60.7" x2="254.7" y2="538.6"/><line x1="295.1" y1="-64.9" x2="341.3" y2="533.3"/></g>
</g>
<rect x="0" y="0" width="292.1" height="449.0" fill="none" stroke="#000" stroke-width="1.1"/>
</g>
<g transform="translate(850.7 638.4)"><g clip-path="url(#pc)">
<rect width="292.1" height="449.0" fill="#fff"/>
<g clip-path="url(#dom)"><g filter="url(#cmB)"><rect x="-60" y="-60" width="412.1" height="569.0" fill="rgb(130,130,130)"/><path d="M118 232 L142 240 L128 275 L100 300 L70 325 L55 365 L30 385 L0 385 L-10 340 L40 295 L90 262Z" fill="rgb(92,92,92)" filter="url(#b6)"/><path d="M116.6 235 L121 245.5 L110 258.5 L95 269.4 L86 282.4 L77.5 297.6 L64.5 306.3 L47 312.8 L32 328 L21 339 L5 350" fill="none" stroke="rgb(76,76,76)" stroke-width="12" stroke-linecap="round" stroke-linejoin="round" filter="url(#b4)"/><path d="M116.6 235 L121 245.5 L110 258.5 L95 269.4 L86 282.4" fill="none" stroke="rgb(26,26,26)" stroke-width="4" stroke-linecap="round" stroke-linejoin="round" filter="url(#b1_5)"/><path d="M86 282.4 L77.5 297.6 L64.5 306.3 L47 312.8 L32 328 L21 339 L5 350" fill="none" stroke="rgb(51,51,51)" stroke-width="4" stroke-linecap="round" stroke-linejoin="round" filter="url(#b1_8)"/><path d="M140 222 L165 215 L215 208 L222 235 L200 246 L165 242 L140 240Z" fill="rgb(97,97,97)" filter="url(#b6)"/><ellipse cx="148" cy="262" rx="12" ry="8" fill="rgb(140,140,140)" filter="url(#b5)"/><ellipse cx="160" cy="335" rx="8" ry="22" fill="rgb(107,107,107)" filter="url(#b5)"/><ellipse cx="150" cy="378" rx="20" ry="9" fill="rgb(110,110,110)" filter="url(#b5)" transform="rotate(-20 150 378)"/><path d="M181 297 L196 301 L214 308" fill="none" stroke="rgb(161,161,161)" stroke-width="7" stroke-linecap="round" stroke-linejoin="round" filter="url(#b3_5)"/><ellipse cx="197" cy="323.7" rx="11" ry="6" fill="rgb(186,186,186)" filter="url(#b3_5)" transform="rotate(15 197 323.7)"/><path d="M186 312 L182 322 L188 330" fill="none" stroke="rgb(158,158,158)" stroke-width="6" stroke-linecap="round" stroke-linejoin="round" filter="url(#b3)"/><ellipse cx="179.6" cy="354" rx="11" ry="9" fill="rgb(171,171,171)" filter="url(#b4)" transform="rotate(-20 179.6 354)"/><ellipse cx="155" cy="354" rx="9" ry="6" fill="rgb(145,145,145)" filter="url(#b4)"/><path d="M95 390 L143 388" fill="none" stroke="rgb(148,148,148)" stroke-width="8" stroke-linecap="round" stroke-linejoin="round" filter="url(#b3_5)"/><ellipse cx="76" cy="385" rx="2.5" ry="3" fill="rgb(199,199,199)" filter="url(#b1_5)"/><path d="M218 250 L221 290" fill="none" stroke="rgb(140,140,140)" stroke-width="6" stroke-linecap="round" stroke-linejoin="round" filter="url(#b3)"/><path d="M150 -20 L320 -20 L320 100 L200 130 L180 150 L160 160 L140 180 L120 200 L100 225 L70 225 L40 200 L40 100Z" fill="rgb(99,99,99)" filter="url(#b5)"/><path d="M160 105 L176 112 L168 130 L160 128Z" fill="rgb(115,115,115)" filter="url(#b3)"/><path d="M164 138 L152.5 151.4 L143 165 L130 178" fill="none" stroke="rgb(64,64,64)" stroke-width="8" stroke-linecap="round" stroke-linejoin="round" filter="url(#b3)"/><path d="M164 138 L152.5 151.4 L143 165" fill="none" stroke="rgb(26,26,26)" stroke-width="5" stroke-linecap="round" stroke-linejoin="round" filter="url(#b1_5)"/><path d="M182 104 L181 112 L175.4 123 L168.5 135" fill="none" stroke="rgb(46,46,46)" stroke-width="8" stroke-linecap="round" stroke-linejoin="round" filter="url(#b2_5)"/><path d="M181.5 106 L175.4 123 L169 134" fill="none" stroke="rgb(0,0,0)" stroke-width="8" stroke-linecap="round" stroke-linejoin="round" filter="url(#b1_5)"/><path d="M170 140 L180 160 L195 170 L185 188 L165 200 L140 210 L118 222 L104 214 L110 200 L130 186 L150 168 L160 148Z" fill="rgb(173,173,173)" filter="url(#b4)"/><ellipse cx="167.8" cy="145.7" rx="4.5" ry="7" fill="rgb(255,255,255)" filter="url(#b1_2)" transform="rotate(10 167.8 145.7)"/><path d="M156.3 155.3 L146.8 166.7" fill="none" stroke="rgb(255,255,255)" stroke-width="4.2" stroke-linecap="round" stroke-linejoin="round" filter="url(#b1)"/><ellipse cx="164" cy="168.6" rx="3.5" ry="5.5" fill="rgb(255,255,255)" filter="url(#b1)" transform="rotate(10 164 168.6)"/><ellipse cx="165.9" cy="190.6" rx="5" ry="3" fill="rgb(255,255,255)" filter="url(#b1)" transform="rotate(-35 165.9 190.6)"/><path d="M153 182 L135.3 193.5 L122 196" fill="none" stroke="rgb(217,217,217)" stroke-width="12" stroke-linecap="round" stroke-linejoin="round" filter="url(#b2_5)"/><path d="M150.6 184 L135.3 193.5 L124 195.6" fill="none" stroke="rgb(255,255,255)" stroke-width="6.5" stroke-linecap="round" stroke-linejoin="round" filter="url(#b1_2)"/><path d="M102 210 L117 211 L116.5 228 L114.5 238 L106 226Z" fill="rgb(255,255,255)" filter="url(#b1_2)"/><path d="M108 208 L122 200" fill="none" stroke="rgb(230,230,230)" stroke-width="5" stroke-linecap="round" stroke-linejoin="round" filter="url(#b2)"/><path d="M184 177 L197 168.5" fill="none" stroke="rgb(161,161,161)" stroke-width="5" stroke-linecap="round" stroke-linejoin="round" filter="url(#b2)"/><ellipse cx="160" cy="205" rx="12" ry="5" fill="rgb(140,140,140)" filter="url(#b4)" transform="rotate(-20 160 205)"/></g></g><path d="M224.3 63.1 L231.8 61.9 L236.8 68.1 L246.8 74.3 L266.8 80.6 L266.8 85.0 L249.3 80.6 L235.6 81.8 L226.8 79.3 L221.2 75.0 L224.3 68.1Z" fill="#fff"/><path d="M196.8 61.9 L208.1 54.4 L214.3 57.5 L220.6 58.4 L220.6 61.9 L209.3 63.1 L199.3 65.0 L191.8 68.1Z" fill="#fff"/><path d="M190.6 90.0 L201.8 84.3 L204.3 86.8 L191.8 94.3 L184.3 96.8Z" fill="#fff"/>
<use href="#land"/>
<path d="M286.2 85.3 L291.2 85.1 L291.2 89.6 L289.1 87.8Z" fill="#fff"/><path d="M284.3 111.2 L291.2 105.0 L291.2 106.8 L285.6 111.8Z" fill="#fff"/>
<g fill="none" stroke="#000" stroke-opacity="0.42" stroke-width="0.6"><circle cx="125.5" cy="-2258.4" r="2711.4"/><circle cx="125.5" cy="-2258.4" r="2636.5"/><circle cx="125.5" cy="-2258.4" r="2561.6"/><circle cx="125.5" cy="-2258.4" r="2486.7"/><circle cx="125.5" cy="-2258.4" r="2411.8"/><circle cx="125.5" cy="-2258.4" r="2336.9"/><circle cx="125.5" cy="-2258.4" r="2262.0"/><line x1="-45.5" y1="-65.1" x2="-92.1" y2="533.1"/><line x1="22.6" y1="-60.8" x2="-5.5" y2="538.5"/><line x1="90.7" y1="-58.7" x2="81.2" y2="541.3"/><line x1="158.9" y1="-58.7" x2="168.0" y2="541.3"/><line x1="227.0" y1="-60.7" x2="254.7" y2="538.6"/><line x1="295.1" y1="-64.9" x2="341.3" y2="533.3"/></g>
</g>
<rect x="0" y="0" width="292.1" height="449.0" fill="none" stroke="#000" stroke-width="1.1"/>
</g>
<text x="405.7" y="25.7" font-size="20.83" textLength="377.3" lengthAdjust="spacingAndGlyphs">February 2005 Surface Temperature</text>
<text x="173.8" y="49.8" font-size="16.67" textLength="49.4" lengthAdjust="spacingAndGlyphs">CIOFS</text>
<text x="564.8" y="55.9" font-size="16.67" textLength="65.9" lengthAdjust="spacingAndGlyphs">NWGOA</text>
<text x="930.6" y="55.9" font-size="16.67" textLength="131.9" lengthAdjust="spacingAndGlyphs">CIOFS - NWGOA</text>
<text x="10.3" y="69.6" font-size="13.89" textLength="35.0" lengthAdjust="spacingAndGlyphs">62°N</text>
<text x="10.3" y="144.4" font-size="13.89" textLength="35.0" lengthAdjust="spacingAndGlyphs">61°N</text>
<text x="10.3" y="219.4" font-size="13.89" textLength="35.0" lengthAdjust="spacingAndGlyphs">60°N</text>
<text x="10.3" y="294.0" font-size="13.89" textLength="35.0" lengthAdjust="spacingAndGlyphs">59°N</text>
<text x="10.3" y="368.4" font-size="13.89" textLength="35.0" lengthAdjust="spacingAndGlyphs">58°N</text>
<text x="10.3" y="443.2" font-size="13.89" textLength="35.0" lengthAdjust="spacingAndGlyphs">57°N</text>
<text x="10.3" y="643.6" font-size="13.89" textLength="35.0" lengthAdjust="spacingAndGlyphs">62°N</text>
<text x="10.3" y="718.4" font-size="13.89" textLength="35.0" lengthAdjust="spacingAndGlyphs">61°N</text>
<text x="10.3" y="793.4" font-size="13.89" textLength="35.0" lengthAdjust="spacingAndGlyphs">60°N</text>
<text x="10.3" y="868.0" font-size="13.89" textLength="35.0" lengthAdjust="spacingAndGlyphs">59°N</text>
<text x="10.3" y="942.4" font-size="13.89" textLength="35.0" lengthAdjust="spacingAndGlyphs">58°N</text>
<text x="10.3" y="1017.2" font-size="13.89" textLength="35.0" lengthAdjust="spacingAndGlyphs">57°N</text>
<text x="30.2" y="1106.0" font-size="13.89" textLength="44.5" lengthAdjust="spacingAndGlyphs">156°W</text>
<text x="113.7" y="1106.0" font-size="13.89" textLength="44.5" lengthAdjust="spacingAndGlyphs">154°W</text>
<text x="197.2" y="1106.0" font-size="13.89" textLength="44.5" lengthAdjust="spacingAndGlyphs">152°W</text>
<text x="281.2" y="1106.0" font-size="13.89" textLength="44.5" lengthAdjust="spacingAndGlyphs">150°W</text>
<text x="429.3" y="1106.0" font-size="13.89" textLength="44.5" lengthAdjust="spacingAndGlyphs">156°W</text>
<text x="512.8" y="1106.0" font-size="13.89" textLength="44.5" lengthAdjust="spacingAndGlyphs">154°W</text>
<text x="596.3" y="1106.0" font-size="13.89" textLength="44.5" lengthAdjust="spacingAndGlyphs">152°W</text>
<text x="680.3" y="1106.0" font-size="13.89" textLength="44.5" lengthAdjust="spacingAndGlyphs">150°W</text>
<text x="828.4" y="1106.0" font-size="13.89" textLength="44.5" lengthAdjust="spacingAndGlyphs">156°W</text>
<text x="911.9" y="1106.0" font-size="13.89" textLength="44.5" lengthAdjust="spacingAndGlyphs">154°W</text>
<text x="995.4" y="1106.0" font-size="13.89" textLength="44.5" lengthAdjust="spacingAndGlyphs">152°W</text>
<text x="1079.4" y="1106.0" font-size="13.89" textLength="44.5" lengthAdjust="spacingAndGlyphs">150°W</text>
<rect x="199.9" y="540.3" width="395.6" height="20.200000000000045" fill="url(#thermal)" stroke="#000" stroke-width="1.0"/>
<g stroke="#000" stroke-width="1.1"><line x1="199.9" x2="199.9" y1="560.5" y2="565.4"/><line x1="249.4" x2="249.4" y1="560.5" y2="565.4"/><line x1="298.8" x2="298.8" y1="560.5" y2="565.4"/><line x1="348.2" x2="348.2" y1="560.5" y2="565.4"/><line x1="397.7" x2="397.7" y1="560.5" y2="565.4"/><line x1="447.1" x2="447.1" y1="560.5" y2="565.4"/><line x1="496.6" x2="496.6" y1="560.5" y2="565.4"/><line x1="546.1" x2="546.1" y1="560.5" y2="565.4"/><line x1="595.5" x2="595.5" y1="560.5" y2="565.4"/></g><text x="189.7" y="581.3" font-size="13.89" textLength="20.5" lengthAdjust="spacingAndGlyphs">−3</text><text x="239.1" y="581.3" font-size="13.89" textLength="20.5" lengthAdjust="spacingAndGlyphs">−2</text><text x="288.6" y="581.3" font-size="13.89" textLength="20.5" lengthAdjust="spacingAndGlyphs">−1</text><text x="343.8" y="581.3" font-size="13.89" textLength="8.8" lengthAdjust="spacingAndGlyphs">0</text><text x="393.3" y="581.3" font-size="13.89" textLength="8.8" lengthAdjust="spacingAndGlyphs">1</text><text x="442.7" y="581.3" font-size="13.89" textLength="8.8" lengthAdjust="spacingAndGlyphs">2</text><text x="492.2" y="581.3" font-size="13.89" textLength="8.8" lengthAdjust="spacingAndGlyphs">3</text><text x="541.6" y="581.3" font-size="13.89" textLength="8.8" lengthAdjust="spacingAndGlyphs">4</text><text x="591.1" y="581.3" font-size="13.89" textLength="8.8" lengthAdjust="spacingAndGlyphs">5</text>
<text x="309.2" y="600.0" font-size="13.89" textLength="177.0" lengthAdjust="spacingAndGlyphs">Surface Temperature (°C)</text>
<rect x="199.9" y="1135.0" width="395.6" height="19.299999999999955" fill="url(#thermal)" stroke="#000" stroke-width="1.0"/>
<g stroke="#000" stroke-width="1.1"><line x1="199.9" x2="199.9" y1="1154.3" y2="1159.2"/><line x1="249.4" x2="249.4" y1="1154.3" y2="1159.2"/><line x1="298.8" x2="298.8" y1="1154.3" y2="1159.2"/><line x1="348.2" x2="348.2" y1="1154.3" y2="1159.2"/><line x1="397.7" x2="397.7" y1="1154.3" y2="1159.2"/><line x1="447.1" x2="447.1" y1="1154.3" y2="1159.2"/><line x1="496.6" x2="496.6" y1="1154.3" y2="1159.2"/><line x1="546.1" x2="546.1" y1="1154.3" y2="1159.2"/><line x1="595.5" x2="595.5" y1="1154.3" y2="1159.2"/></g><text x="188.9" y="1175.3" font-size="13.89" textLength="22.1" lengthAdjust="spacingAndGlyphs">0.0</text><text x="238.3" y="1175.3" font-size="13.89" textLength="22.1" lengthAdjust="spacingAndGlyphs">0.5</text><text x="287.8" y="1175.3" font-size="13.89" textLength="22.1" lengthAdjust="spacingAndGlyphs">1.0</text><text x="337.2" y="1175.3" font-size="13.89" textLength="22.1" lengthAdjust="spacingAndGlyphs">1.5</text><text x="386.7" y="1175.3" font-size="13.89" textLength="22.1" lengthAdjust="spacingAndGlyphs">2.0</text><text x="436.1" y="1175.3" font-size="13.89" textLength="22.1" lengthAdjust="spacingAndGlyphs">2.5</text><text x="485.6" y="1175.3" font-size="13.89" textLength="22.1" lengthAdjust="spacingAndGlyphs">3.0</text><text x="535.0" y="1175.3" font-size="13.89" textLength="22.1" lengthAdjust="spacingAndGlyphs">3.5</text><text x="584.5" y="1175.3" font-size="13.89" textLength="22.1" lengthAdjust="spacingAndGlyphs">4.0</text>
<text x="211.4" y="1195.3" font-size="16.67" textLength="372.5" lengthAdjust="spacingAndGlyphs">Surface Temperature Standard Deviation(°C)</text>
<linearGradient id="balancee539" gradientUnits="userSpaceOnUse" x1="907.8" x2="1084.6" y1="0" y2="0"><stop offset="0" stop-color="#181c43"/><stop offset="0.0833" stop-color="#26317e"/><stop offset="0.1667" stop-color="#1d50b8"/><stop offset="0.25" stop-color="#2b7ebd"/><stop offset="0.3333" stop-color="#6ea5c3"/><stop offset="0.4167" stop-color="#b0c9d5"/><stop offset="0.5" stop-color="#f1eceb"/><stop offset="0.5833" stop-color="#e2b9a8"/><stop offset="0.6667" stop-color="#d3866d"/><stop offset="0.75" stop-color="#c2523c"/><stop offset="0.8333" stop-color="#a4202a"/><stop offset="0.9167" stop-color="#6d0e2a"/><stop offset="1" stop-color="#3c0912"/></linearGradient><path d="M907.8 539.4 L1084.6 539.4 L1094.0 544.4 L1084.6 549.4 L907.8 549.4 L898.4 544.4Z" fill="url(#balancee539)" stroke="#000" stroke-width="1.0"/>
<g stroke="#000" stroke-width="1.1"><line x1="937.3" x2="937.3" y1="549.4" y2="554.3"/><line x1="996.2" x2="996.2" y1="549.4" y2="554.3"/><line x1="1055.1" x2="1055.1" y1="549.4" y2="554.3"/></g><text x="927.1" y="571.0" font-size="13.89" textLength="20.5" lengthAdjust="spacingAndGlyphs">−2</text><text x="991.8" y="571.0" font-size="13.89" textLength="8.8" lengthAdjust="spacingAndGlyphs">0</text><text x="1050.7" y="571.0" font-size="13.89" textLength="8.8" lengthAdjust="spacingAndGlyphs">2</text>
<text x="907.7" y="590.0" font-size="13.89" textLength="177.0" lengthAdjust="spacingAndGlyphs">Surface Temperature (°C)</text>
<linearGradient id="balancee1134" gradientUnits="userSpaceOnUse" x1="907.8" x2="1084.6" y1="0" y2="0"><stop offset="0" stop-color="#181c43"/><stop offset="0.0833" stop-color="#26317e"/><stop offset="0.1667" stop-color="#1d50b8"/><stop offset="0.25" stop-color="#2b7ebd"/><stop offset="0.3333" stop-color="#6ea5c3"/><stop offset="0.4167" stop-color="#b0c9d5"/><stop offset="0.5" stop-color="#f1eceb"/><stop offset="0.5833" stop-color="#e2b9a8"/><stop offset="0.6667" stop-color="#d3866d"/><stop offset="0.75" stop-color="#c2523c"/><stop offset="0.8333" stop-color="#a4202a"/><stop offset="0.9167" stop-color="#6d0e2a"/><stop offset="1" stop-color="#3c0912"/></linearGradient><path d="M907.8 1134.4 L1084.6 1134.4 L1094.0 1139.4 L1084.6 1144.4 L907.8 1144.4 L898.4 1139.4Z" fill="url(#balancee1134)" stroke="#000" stroke-width="1.0"/>
<g stroke="#000" stroke-width="1.1"><line x1="937.3" x2="937.3" y1="1144.4" y2="1149.3000000000002"/><line x1="996.2" x2="996.2" y1="1144.4" y2="1149.3000000000002"/><line x1="1055.1" x2="1055.1" y1="1144.4" y2="1149.3000000000002"/></g><text x="927.1" y="1165.8" font-size="13.89" textLength="20.5" lengthAdjust="spacingAndGlyphs">−2</text><text x="991.8" y="1165.8" font-size="13.89" textLength="8.8" lengthAdjust="spacingAndGlyphs">0</text><text x="1050.7" y="1165.8" font-size="13.89" textLength="8.8" lengthAdjust="spacingAndGlyphs">2</text>
<text x="921.4" y="1184.7" font-size="13.89" textLength="145.2" lengthAdjust="spacingAndGlyphs">Surface Temperature</text>
<text x="915.1" y="1201.7" font-size="13.89" textLength="165.8" lengthAdjust="spacingAndGlyphs">Standard Deviation (°C)</text>
</svg></body></html>
